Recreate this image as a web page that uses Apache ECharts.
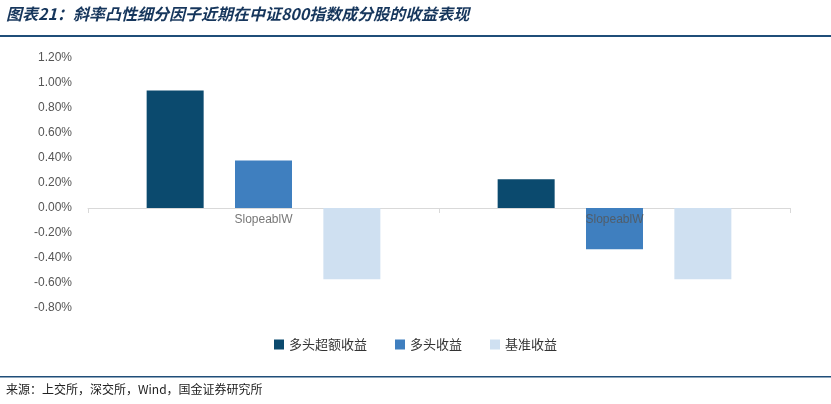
<!DOCTYPE html>
<html><head><meta charset="utf-8">
<script src="https://cdn.jsdelivr.net/npm/echarts@6/dist/echarts.min.js"></script>
<style>body{margin:0;background:#fff}#c{width:831px;height:404px}</style></head>
<body><div id="c"></div>
<script>
const categories = ["SlopeablW", "SlopeablW"];
const seriesNames = ["多头超额收益", "多头收益", "基准收益"];
const excess = [0.94, 0.23];
const longRet = [0.38, -0.33];
const bench = [-0.57, -0.57];
const colors = ["#0b4a6e", "#3f7fbf", "#cfe0f1"];
const chart = echarts.init(document.getElementById('c'));
const font = '"Liberation Sans", Arial, sans-serif';
chart.setOption({
  animation:false,
  graphic:[
    {type:'text',left:6,top:6,style:{text:'图表21：斜率凸性细分因子近期在中证800指数成分股的收益表现',font:'italic bold 16px "Noto Sans CJK SC"',fill:'#16365c'}},
    {type:'rect',shape:{x:0,y:35,width:831,height:2},style:{fill:'#1f4e79'}},
    {type:'rect',shape:{x:0,y:376,width:831,height:1.5},style:{fill:'#1f4e79'}},
    {type:'text',left:6,top:383,style:{text:'来源：上交所，深交所，Wind，国金证券研究所',font:'12px "Noto Sans CJK SC"',fill:'#222'}}
  ],
  grid:{left:88,right:41,top:58,bottom:96},
  legend:{bottom:48,left:'center',itemWidth:10,itemHeight:10,itemGap:28,icon:'rect',textStyle:{fontSize:13,color:'#333',fontFamily:'"Noto Sans CJK SC"'},data:seriesNames},
  xAxis:{type:'category',data:categories,axisLine:{onZero:true,lineStyle:{color:'#d9d9d9'}},axisTick:{show:true,length:5,lineStyle:{color:'#d9d9d9'}},axisLabel:{show:false}},
  yAxis:{type:'value',min:-0.8,max:1.2,interval:0.2,splitLine:{show:false},axisLine:{show:false},axisTick:{show:false},
    axisLabel:{color:'#555',fontSize:12,fontFamily:font,margin:16,formatter:v=>v.toFixed(2)+'%'}},
  series:[
    {name:seriesNames[0],type:'bar',data:excess,barWidth:57,barGap:'55%',itemStyle:{color:colors[0]}},
    {name:seriesNames[1],type:'bar',data:longRet,barWidth:57,barGap:'55%',itemStyle:{color:colors[1]}},
    {name:seriesNames[2],type:'bar',data:bench,barWidth:57,barGap:'55%',itemStyle:{color:colors[2]}},
    {name:'labels',type:'scatter',data:categories.map((c,i)=>[i,0]),symbolSize:0,z:10,silent:true,
     label:{show:true,position:'bottom',distance:6,formatter:p=>categories[p.dataIndex],color:'#555',fontSize:12,fontFamily:font}}
  ]
});
</script></body></html>
